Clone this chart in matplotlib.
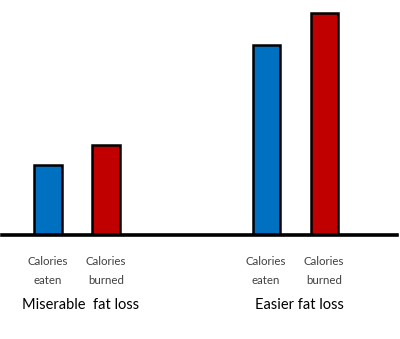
import numpy as np
from matplotlib import pyplot as plt

# calorie balance, two scenarios
groups = ["Miserable  fat loss", "Easier fat loss"]
bar_labels = ["Calories\neaten", "Calories\nburned"]
eaten = [70, 190]
burned = [90, 222]

blue = "#0070C0"
red = "#C00000"

plt.rcParams['font.family'] = ['Lato', 'DejaVu Sans']

fig = plt.figure(figsize=(4.0, 3.39), dpi=100)
ax = fig.add_axes([0, (339 - 235) / 339, 1, 235 / 339])

gpos = np.array([0, 3.76])
w = 0.466
ax.bar(gpos - 0.5, eaten, width=w, color=blue, edgecolor="black", linewidth=1.8, zorder=2)
ax.bar(gpos + 0.5, burned, width=w, color=red, edgecolor="black", linewidth=1.8, zorder=2)
ax.axhline(0, xmin=0.005, xmax=0.993, color="black", linewidth=2.6, zorder=3, clip_on=False)

ax.set_xlim(-77 / 58, 323 / 58)
ax.set_ylim(0, 235)

xt = np.concatenate([[g - 0.5, g + 0.5] for g in gpos])
ax.set_xticks(xt)
ax.set_xticklabels(bar_labels * 2, fontsize=8.3, color="#404040", linespacing=1.95)
ax.tick_params(axis="x", length=0, pad=15)
ax.set_yticks([])
for s in ax.spines.values():
    s.set_visible(False)

for g, name in zip(gpos, groups):
    ax.text(g + 0.07, -70, name, ha="center", va="center", fontsize=10.5, color="black")

fig.savefig("out.png", dpi=100)
